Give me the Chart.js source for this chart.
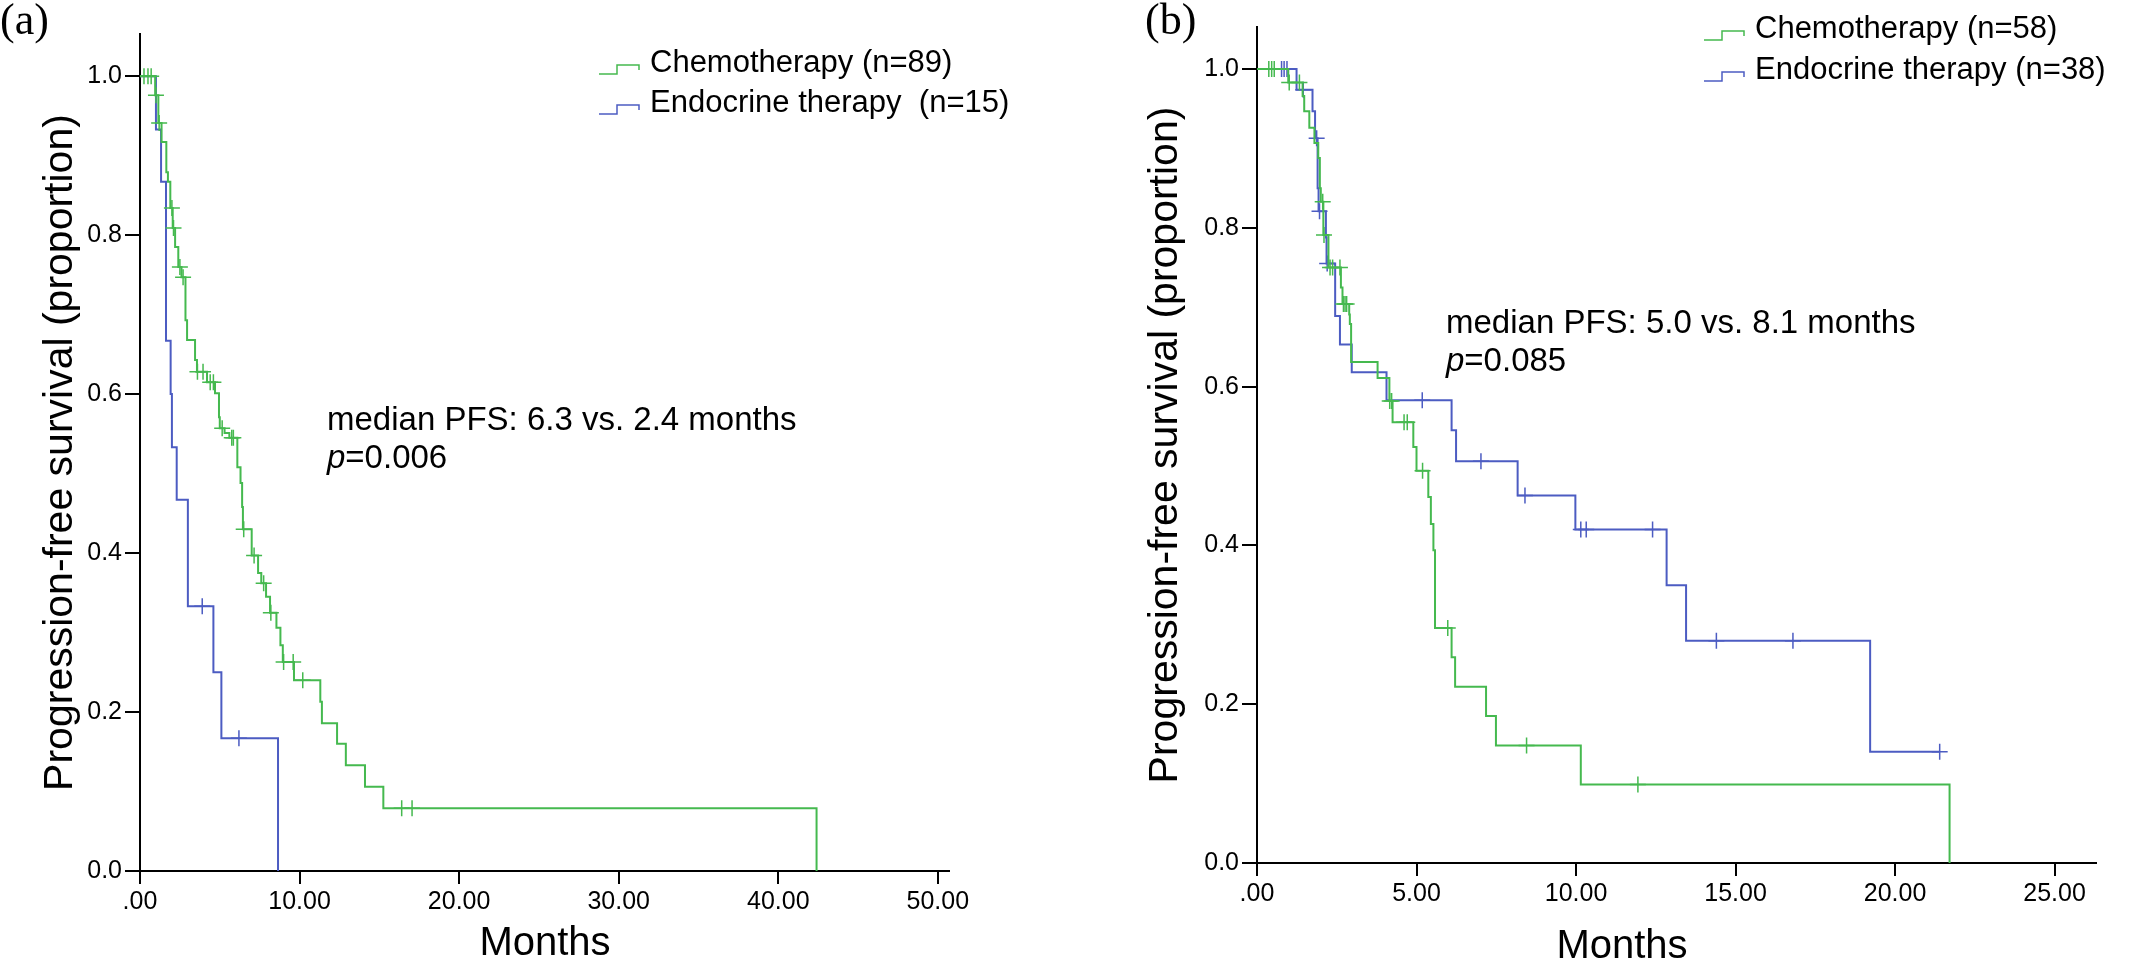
<!DOCTYPE html>
<html>
<head>
<meta charset="utf-8">
<script src="https://cdn.jsdelivr.net/npm/chart.js@4.4.1/dist/chart.umd.min.js"></script>
<style>
html, body { margin: 0; padding: 0; background: #fff; }
#wrap { position: relative; width: 2130px; height: 977px; }
.panel { position: absolute; top: 0; width: 1065px; height: 977px; }
</style>
</head>
<body>
<div id="wrap">
  <div class="panel" style="left:0"><canvas id="chartA"></canvas></div>
  <div class="panel" style="left:1065px"><canvas id="chartB"></canvas></div>
</div>
<script>
// ---- data ----
// panel (a)
var chemoA_time = [0.95, 1.15, 1.35, 1.65, 1.75, 1.9, 2.05, 2.2, 2.4, 2.6, 2.85, 2.95, 3.45, 3.57, 4.2, 4.7, 4.95, 5.0, 5.3, 5.6,
                   6.1, 6.3, 6.4, 6.45, 7.0, 7.4, 7.6, 7.9, 8.15, 8.55, 8.8, 8.95, 9.65, 11.3, 11.4, 12.35, 12.9, 14.1, 15.25, 42.4];
var chemoA_surv = [0.976, 0.941, 0.917, 0.879, 0.867, 0.834, 0.809, 0.785, 0.76, 0.747, 0.693, 0.668, 0.643, 0.628, 0.615, 0.601, 0.571, 0.557, 0.551, 0.545,
                   0.508, 0.488, 0.458, 0.43, 0.397, 0.375, 0.362, 0.345, 0.325, 0.306, 0.284, 0.263, 0.24, 0.213, 0.186, 0.16, 0.133, 0.106, 0.079, 0];
var chemoA_cens = [0.25, 0.5, 0.7, 1.0, 1.2, 2.0, 2.1, 2.5, 2.7, 3.6, 3.95, 4.4, 4.6, 5.15, 5.75, 5.85, 6.5, 7.15, 7.75, 8.2, 9.0, 9.6, 10.2, 16.4, 17.05];

var endoA_time = [1.0, 1.32, 1.63, 1.92, 2.0, 2.3, 3.0, 4.6, 5.1, 8.65];
var endoA_surv = [0.933, 0.867, 0.667, 0.6, 0.533, 0.467, 0.333, 0.25, 0.167, 0];
var endoA_cens = [3.9, 6.2];

// panel (b)
var chemoB_time = [0.98, 1.43, 1.48, 1.64, 1.8, 1.92, 1.97, 2.0, 2.08, 2.24, 2.63, 2.68, 2.89, 2.91, 2.95, 3.78, 4.15, 4.25, 4.9, 5.0,
                   5.37, 5.45, 5.53, 5.58, 6.1, 6.21, 7.18, 7.49, 10.15, 21.71];
var chemoB_surv = [0.983, 0.966, 0.947, 0.926, 0.907, 0.888, 0.85, 0.833, 0.791, 0.75, 0.725, 0.704, 0.691, 0.679, 0.631, 0.611, 0.582, 0.555, 0.524, 0.494,
                   0.461, 0.427, 0.394, 0.296, 0.259, 0.222, 0.185, 0.148, 0.099, 0];
var chemoB_cens = [0.37, 0.46, 0.54, 1.01, 1.33, 2.06, 2.1, 2.29, 2.37, 2.6, 2.71, 2.76, 2.81, 4.16, 4.22, 4.61, 4.71, 5.19, 5.98, 8.45, 11.94];

var endoB_time = [1.24, 1.74, 1.82, 1.9, 1.93, 2.16, 2.18, 2.45, 2.6, 2.97, 4.06, 6.1, 6.24, 8.17, 9.98, 12.84, 13.45, 19.22];
var endoB_surv = [0.974, 0.947, 0.913, 0.85, 0.821, 0.788, 0.755, 0.689, 0.653, 0.618, 0.583, 0.545, 0.506, 0.463, 0.42, 0.35, 0.28, 0.14];
var endoB_cens = [0.77, 0.85, 0.94, 1.45, 1.87, 1.96, 2.2, 5.18, 7.02, 8.4, 10.15, 10.32, 12.4, 14.4, 16.8, 21.4];

var ticksA_x = [0, 10, 20, 30, 40, 50];
var ticksB_x = [0, 5, 10, 15, 20, 25];
var ticks_y = [0, 0.2, 0.4, 0.6, 0.8, 1.0];

var GREEN = '#45b94f';
var BLUE = '#4c5cc2';
var SANS = '"Liberation Sans", Arial, sans-serif';
var SERIF = '"Liberation Serif", "Times New Roman", serif';

Chart.defaults.font.family = SANS;
Chart.defaults.color = '#000';

// survival level at time t (step function)
function levelAt(times, surv, t) {
  var s = 1;
  for (var i = 0; i < times.length; i++) if (times[i] <= t) s = surv[i];
  return s;
}

function curvePoints(times, surv, cens) {
  var pts = [{x: 0, y: 1}];
  for (var i = 0; i < times.length; i++) pts.push({x: times[i], y: surv[i]});
  var lastT = times[times.length - 1];
  var maxC = Math.max.apply(null, cens);
  if (maxC > lastT) pts.push({x: maxC, y: surv[surv.length - 1]});
  return pts;
}

function kmSets(label, color, times, surv, cens) {
  return [{
    label: label,
    inLegend: true,
    data: curvePoints(times, surv, cens),
    stepped: 'before',
    borderColor: color,
    borderWidth: 2,
    pointRadius: 0,
    fill: false
  }, {
    label: label + ' censored',
    data: cens.map(function(t) { return {x: t, y: levelAt(times, surv, t)}; }),
    showLine: false,
    pointStyle: 'cross',
    pointRadius: 8,
    borderColor: color,
    borderWidth: 1.5
  }];
}

// legend, note, x title and panel letter
var panelText = {
  id: 'panelText',
  afterDraw: function(chart, args, o) {
    var ctx = chart.ctx;
    ctx.save();
    ctx.fillStyle = '#000';
    ctx.textBaseline = 'alphabetic';
    ctx.textAlign = 'left';

    ctx.font = o.letterSize + 'px ' + SERIF;
    ctx.fillText(o.letter, o.letterX, o.letterY);

    var rows = chart.data.datasets.filter(function(d) { return d.inLegend; });
    rows.forEach(function(d, i) {
      var x = o.legendX, y = o.legendY + i * o.legendGap;
      ctx.strokeStyle = d.borderColor;
      ctx.lineWidth = 1.5;
      ctx.beginPath();
      ctx.moveTo(x, y + 2);
      ctx.lineTo(x + 18, y + 2);
      ctx.lineTo(x + 18, y - 7);
      ctx.lineTo(x + 40, y - 7);
      ctx.lineTo(x + 40, y - 2);
      ctx.stroke();
      ctx.font = o.legendSize + 'px ' + SANS;
      ctx.fillText(d.label, x + 51, y);
    });

    ctx.font = o.noteSize + 'px ' + SANS;
    ctx.fillText(o.note, o.noteX, o.noteY);
    ctx.font = 'italic ' + o.noteSize + 'px ' + SANS;
    ctx.fillText('p', o.noteX, o.noteY + o.noteGap);
    var w = ctx.measureText('p').width;
    ctx.font = o.noteSize + 'px ' + SANS;
    ctx.fillText(o.pValue, o.noteX + w, o.noteY + o.noteGap);

    ctx.font = o.xTitleSize + 'px ' + SANS;
    ctx.textAlign = 'center';
    ctx.textBaseline = 'middle';
    ctx.fillText(o.xTitle, o.xTitleX, o.xTitleY);
    ctx.restore();
  }
};

function makePanel(id, p) {
  return new Chart(document.getElementById(id), {
    type: 'line',
    data: {
      datasets: kmSets(p.chemoLabel, GREEN, p.chemo[0], p.chemo[1], p.chemo[2])
        .concat(kmSets(p.endoLabel, BLUE, p.endo[0], p.endo[1], p.endo[2]))
    },
    options: {
      responsive: true,
      maintainAspectRatio: false,
      animation: false,
      layout: { padding: { top: p.top, right: p.right, left: 0, bottom: 0 } },
      plugins: {
        legend: { display: false },
        tooltip: { enabled: false },
        panelText: p.text
      },
      scales: {
        x: {
          type: 'linear',
          min: 0,
          max: p.xMax,
          afterBuildTicks: function(s) { s.ticks = p.xTicks.map(function(v) { return {value: v}; }); },
          afterFit: function(s) { s.height = p.bottomH; s.paddingLeft = 0; s.paddingRight = 0; },
          grid: { drawOnChartArea: false, drawTicks: true, tickLength: 13, color: '#000', lineWidth: 2 },
          border: { display: true, color: '#000', width: 2 },
          ticks: {
            color: '#000', font: { size: 25 }, padding: 3, maxRotation: 0, autoSkip: false,
            callback: function(v) { return v === 0 ? '.00' : Number(v).toFixed(2); }
          }
        },
        y: {
          min: 0,
          max: 1.053,
          afterBuildTicks: function(s) { s.ticks = ticks_y.map(function(v) { return {value: v}; }); },
          afterFit: function(s) { s.width = p.leftW; s.paddingTop = 0; s.paddingBottom = 0; },
          grid: { drawOnChartArea: false, drawTicks: true, tickLength: 15, color: '#000', lineWidth: 2 },
          border: { display: true, color: '#000', width: 2 },
          ticks: {
            color: '#000', font: { size: 25 }, padding: 3,
            callback: function(v) { return Number(v).toFixed(1); }
          },
          title: { display: true, text: 'Progression-free survival (proportion)', color: '#000', font: { size: 41 }, padding: { top: p.yTitlePad, bottom: 0 } }
        }
      }
    },
    plugins: [panelText]
  });
}

makePanel('chartA', {
  chemoLabel: 'Chemotherapy (n=89)',
  endoLabel: 'Endocrine therapy  (n=15)',
  chemo: [chemoA_time, chemoA_surv, chemoA_cens],
  endo: [endoA_time, endoA_surv, endoA_cens],
  xTicks: ticksA_x,
  xMax: 50.7,
  top: 34, right: 116, leftW: 140, bottomH: 106, yTitlePad: 36,
  text: {
    letter: '(a)', letterX: 0, letterY: 34, letterSize: 44,
    legendX: 599, legendY: 72, legendGap: 40, legendSize: 31,
    note: 'median PFS: 6.3 vs. 2.4 months', pValue: '=0.006',
    noteX: 327, noteY: 430, noteGap: 38, noteSize: 33,
    xTitle: 'Months', xTitleX: 545, xTitleY: 944, xTitleSize: 40
  }
});

makePanel('chartB', {
  chemoLabel: 'Chemotherapy (n=58)',
  endoLabel: 'Endocrine therapy (n=38)',
  chemo: [chemoB_time, chemoB_surv, chemoB_cens],
  endo: [endoB_time, endoB_surv, endoB_cens],
  xTicks: ticksB_x,
  xMax: 26.3,
  top: 27, right: 34, leftW: 192, bottomH: 114, yTitlePad: 76,
  text: {
    letter: '(b)', letterX: 80, letterY: 34, letterSize: 44,
    legendX: 639, legendY: 38, legendGap: 41, legendSize: 31,
    note: 'median PFS: 5.0 vs. 8.1 months', pValue: '=0.085',
    noteX: 381, noteY: 333, noteGap: 38, noteSize: 33,
    xTitle: 'Months', xTitleX: 557, xTitleY: 947, xTitleSize: 40
  }
});
</script>
</body>
</html>
